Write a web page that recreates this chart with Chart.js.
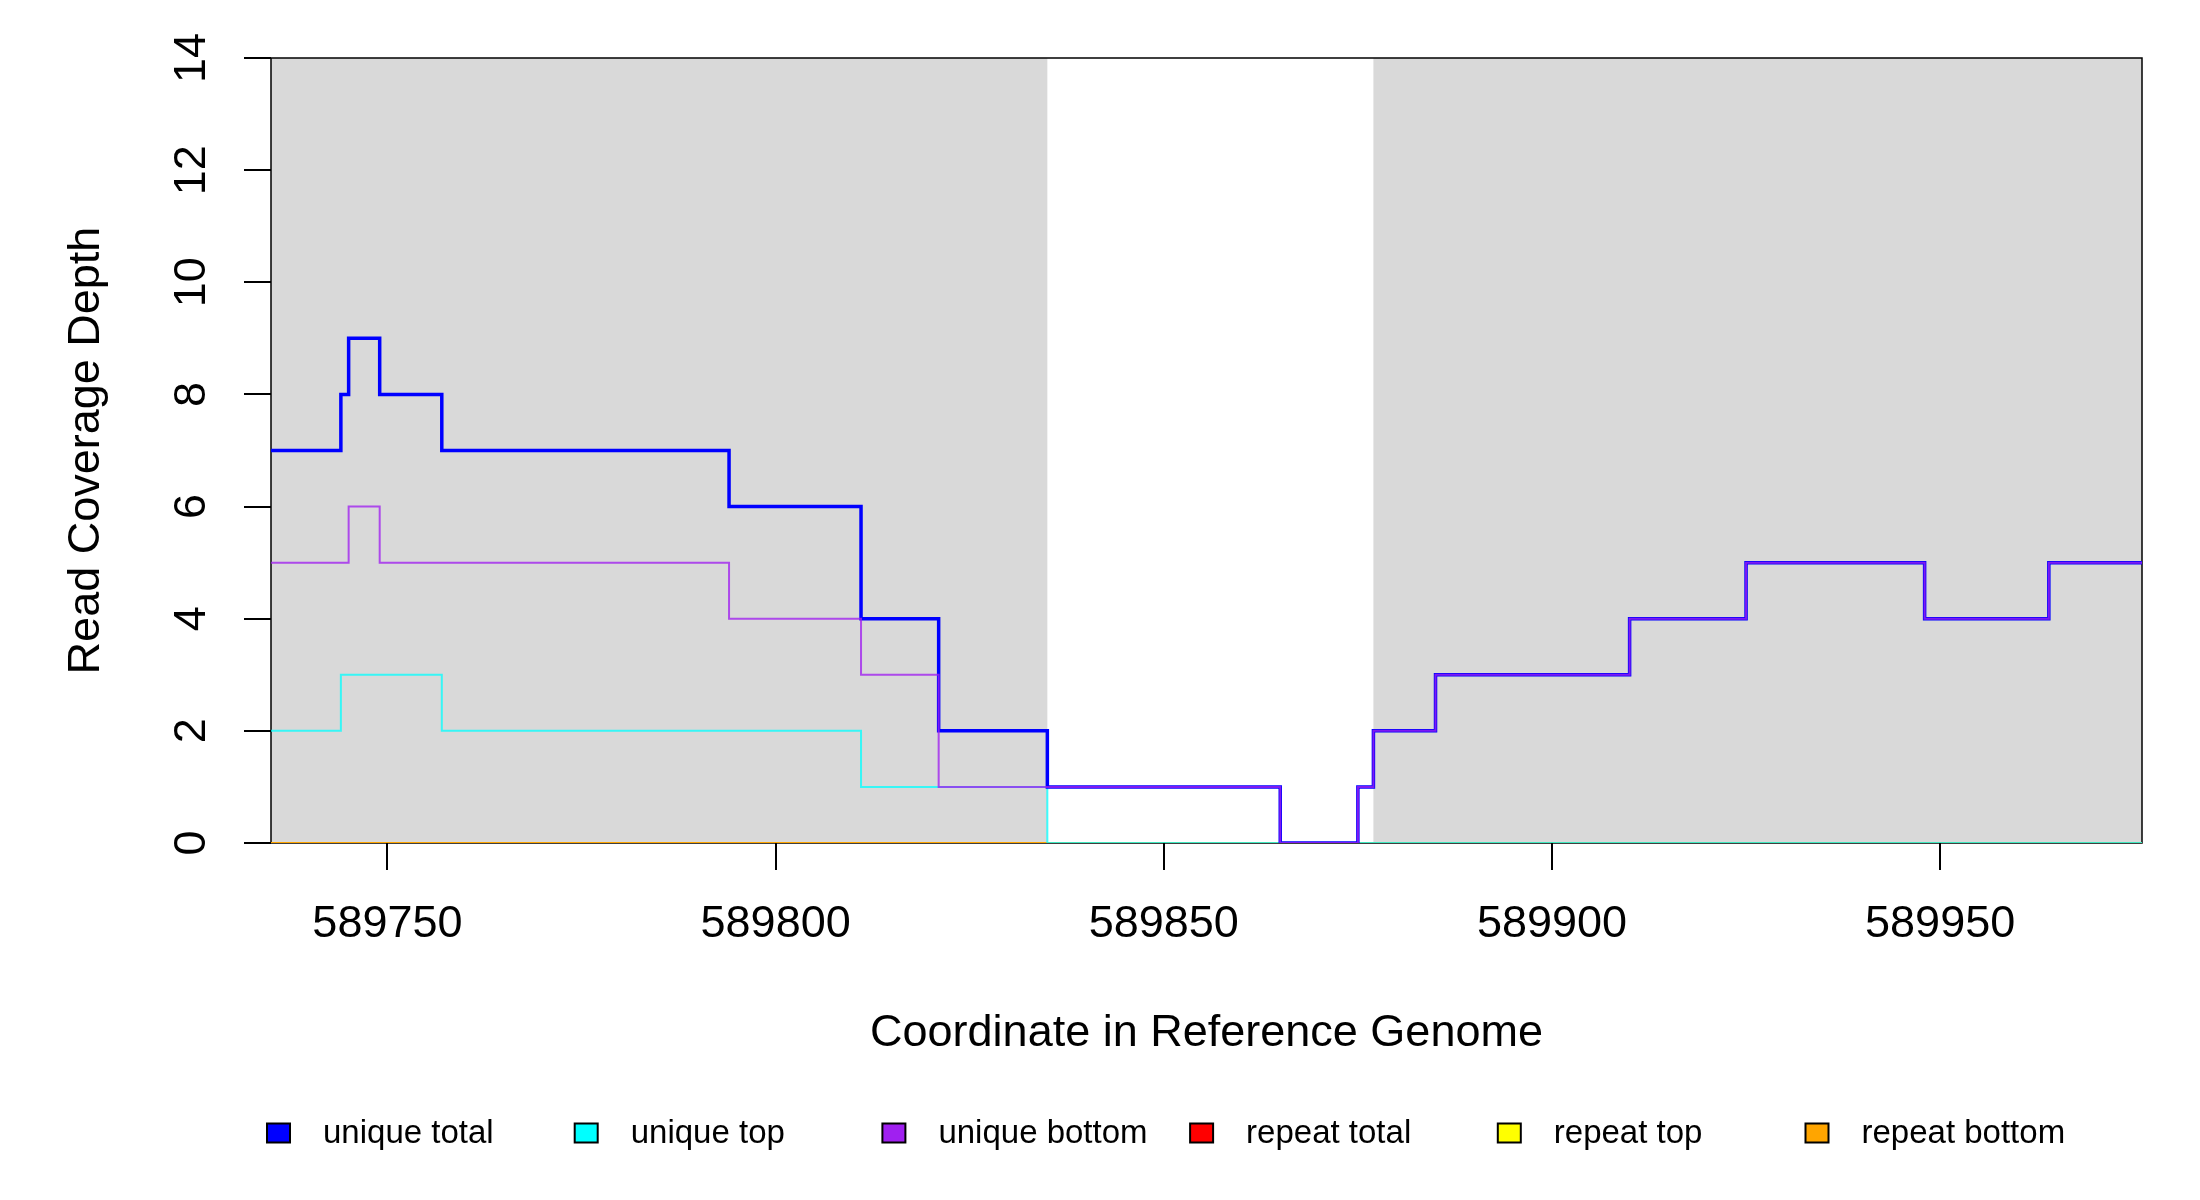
<!DOCTYPE html>
<html>
<head>
<meta charset="utf-8">
<script src="https://cdn.jsdelivr.net/npm/chart.js@4.4.1/dist/chart.umd.min.js"></script>
<style>
  html, body { margin: 0; padding: 0; background: #fff; }
  #wrap { width: 2200px; height: 1200px; }
</style>
</head>
<body>
<div id="wrap"><canvas id="coverageChart" width="2200" height="1200"></canvas></div>
<script>
//STEP START POSITIONS (LAST ONE CLOSES THE FINAL STEP) AND DEPTHS
const totalPos = [589735, 589744, 589745, 589749, 589757, 589794, 589811, 589821, 589835, 589865, 589875, 589877, 589885, 589910, 589925, 589948, 589964, 589976];
const totalDepth = [7, 8, 9, 8, 7, 6, 4, 2, 1, 0, 1, 2, 3, 4, 5, 4, 5, 5];
const topPos = [589735, 589744, 589757, 589811, 589835, 589976];
const topDepth = [2, 3, 2, 1, 0, 0];
const bottomPos = [589735, 589745, 589749, 589794, 589811, 589821, 589865, 589875, 589877, 589885, 589910, 589925, 589948, 589964, 589976];
const bottomDepth = [5, 6, 5, 4, 3, 1, 0, 1, 2, 3, 4, 5, 4, 5, 5];
const repeatPos = [589735, 589976];
const repeatTotalDepth = [0, 0];
const repeatTopDepth = [0, 0];
const repeatBottomDepth = [0, 0];

//GRAY SHADED REGIONS
const shadeFrom = [589735, 589877];
const shadeTo = [589835, 589976];

const xTicks = [589750, 589800, 589850, 589900, 589950];
const yTicks = [0, 2, 4, 6, 8, 10, 12, 14];

const seriesNames = ["unique total", "unique top", "unique bottom", "repeat total", "repeat top", "repeat bottom"];
const seriesColors = ["#0000ff", "#00ffff", "#a020f0", "#ff0000", "#ffff00", "#ffa500"];

const fontFamily = "'Liberation Sans', Arial, sans-serif";

function toPoints(xs, ys) {
  return xs.map((v, i) => ({ x: v, y: ys[i] }));
}

const shadePlugin = {
  id: "shade",
  beforeDatasetsDraw(chart) {
    const { ctx, chartArea, scales } = chart;
    ctx.save();
    ctx.fillStyle = "#d9d9d9";
    for (let i = 0; i < shadeFrom.length; i++) {
      const x0 = scales.x.getPixelForValue(shadeFrom[i]);
      const x1 = scales.x.getPixelForValue(shadeTo[i]);
      ctx.fillRect(x0, chartArea.top, x1 - x0, chartArea.bottom - chartArea.top);
    }
    ctx.strokeStyle = "#000";
    ctx.lineWidth = 1.5;
    ctx.strokeRect(chartArea.left, chartArea.top, chartArea.right - chartArea.left, chartArea.bottom - chartArea.top);
    ctx.restore();
  },
};

const boxLegend = {
  id: "boxLegend",
  afterDraw(chart) {
    //LEGEND ROW UNDER THE X AXIS, EQUAL SPACING LIKE THE R PLOT
    const ctx = chart.ctx;
    ctx.save();
    ctx.font = "33px " + fontFamily;
    ctx.textBaseline = "middle";
    ctx.textAlign = "left";
    for (let i = 0; i < seriesNames.length; i++) {
      const left = 266 + i * 307.7;
      ctx.fillStyle = seriesColors[i];
      ctx.fillRect(left + 1, 1123.5, 23, 19);
      ctx.strokeStyle = "#000";
      ctx.lineWidth = 2;
      ctx.strokeRect(left + 1, 1123.5, 23, 19);
      ctx.fillStyle = "#000";
      ctx.fillText(seriesNames[i], left + 57, 1134);
    }
    ctx.restore();
  },
};

const data = {
  datasets: [
    {
      label: seriesNames[0],
      data: toPoints(totalPos, totalDepth),
      borderColor: "#0000ff",
      borderWidth: 3.5,
      order: 1,
    },
    {
      label: seriesNames[1],
      data: toPoints(topPos, topDepth),
      borderColor: "rgba(0, 255, 255, 0.75)",
      borderWidth: 2,
      order: 2,
    },
    {
      label: seriesNames[2],
      data: toPoints(bottomPos, bottomDepth),
      borderColor: "rgba(160, 32, 240, 0.78)",
      borderWidth: 2,
      order: 0,
    },
    {
      label: seriesNames[3],
      data: toPoints(repeatPos, repeatTotalDepth),
      borderColor: "#ff0000",
      borderWidth: 2,
      order: 5,
    },
    {
      label: seriesNames[4],
      data: toPoints(repeatPos, repeatTopDepth),
      borderColor: "#ffff00",
      borderWidth: 2,
      order: 4,
    },
    {
      label: seriesNames[5],
      data: toPoints(repeatPos, repeatBottomDepth),
      borderColor: "#ffa500",
      borderWidth: 2,
      order: 3,
    },
  ],
};

const tickFont = { family: fontFamily, size: 45 };

const config = {
  type: "line",
  data: data,
  options: {
    responsive: false,
    devicePixelRatio: 1,
    animation: false,
    layout: { padding: { left: 0, right: 58, top: 58, bottom: 137 } },
    plugins: { legend: { display: false }, tooltip: { enabled: false } },
    elements: {
      point: { radius: 0 },
      line: { tension: 0, stepped: true, fill: false, borderCapStyle: "butt", borderJoinStyle: "miter" },
    },
    scales: {
      x: {
        type: "linear",
        min: 589735,
        max: 589976,
        afterBuildTicks: (s) => { s.ticks = xTicks.map((v) => ({ value: v })); },
        afterFit: (s) => { s.height = 220; },
        grid: { drawOnChartArea: false, drawTicks: true, tickLength: 27, color: "#000", lineWidth: 2 },
        border: { display: false },
        ticks: {
          font: tickFont,
          color: "#000",
          padding: 28,
          autoSkip: false,
          maxRotation: 0,
          minRotation: 0,
          callback: (v) => String(v),
        },
        title: {
          display: true,
          text: "Coordinate in Reference Genome",
          font: tickFont,
          color: "#000",
          padding: { top: 0, bottom: 2 },
        },
      },
      y: {
        type: "linear",
        min: 0,
        max: 14,
        afterBuildTicks: (s) => { s.ticks = yTicks.map((v) => ({ value: v })); },
        afterFit: (s) => { s.width = 271; },
        grid: { drawOnChartArea: false, drawTicks: true, tickLength: 27, color: "#000", lineWidth: 2 },
        border: { display: false },
        ticks: {
          font: tickFont,
          color: "#000",
          padding: 26,
          minRotation: 90,
          maxRotation: 90,
          crossAlign: "center",
          callback: (v) => String(v),
        },
        title: {
          display: true,
          text: "Read Coverage Depth",
          font: tickFont,
          color: "#000",
          padding: { top: 60, bottom: 0 },
        },
      },
    },
  },
  plugins: [shadePlugin, boxLegend],
};

const chart = new Chart(document.getElementById("coverageChart"), config);
</script>
</body>
</html>
